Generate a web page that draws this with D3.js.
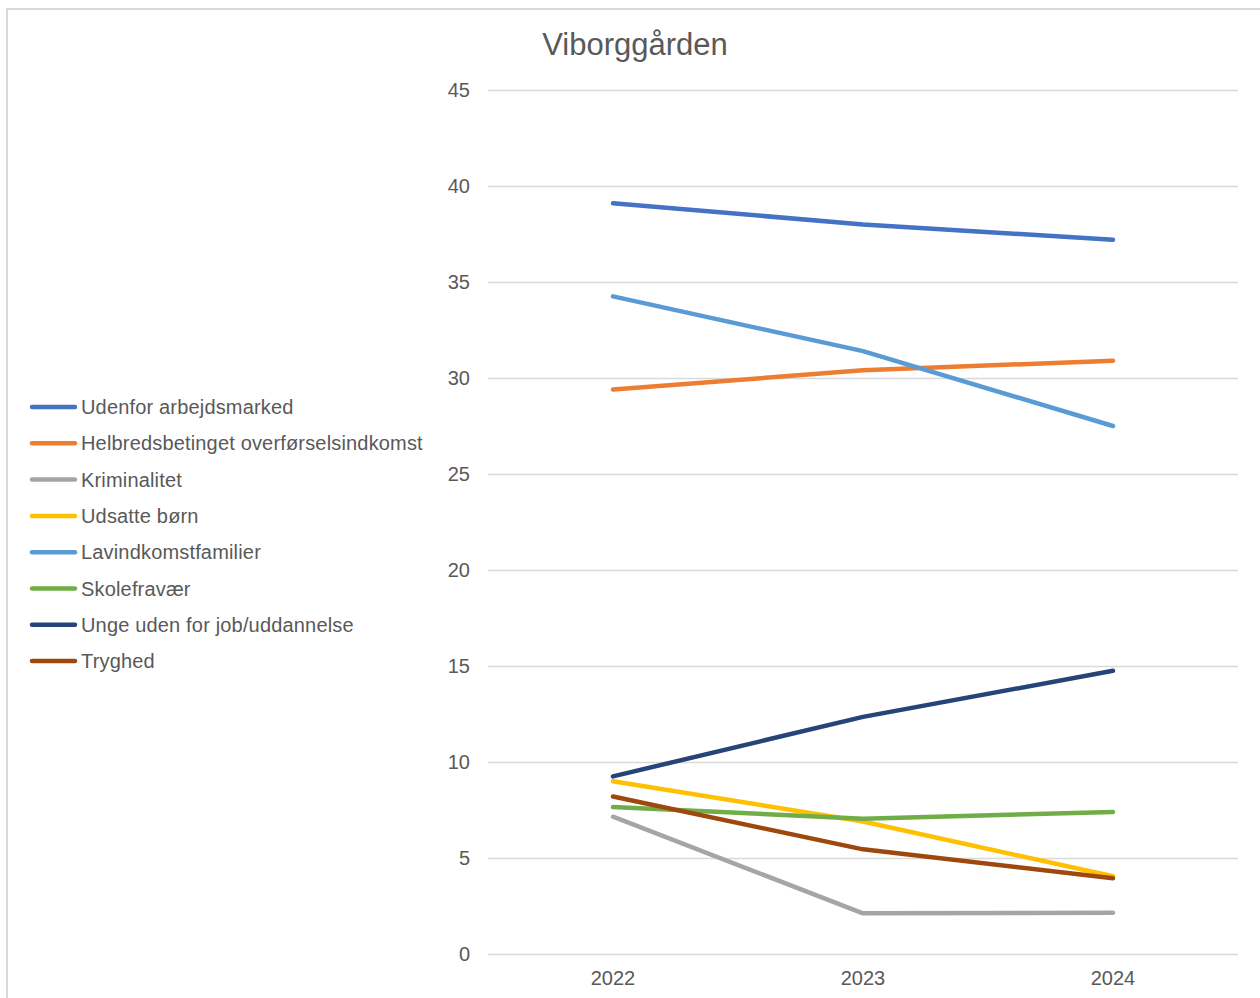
<!DOCTYPE html>
<html>
<head>
<meta charset="utf-8">
<script src="https://cdn.jsdelivr.net/npm/d3@7"></script>
<style>
  html, body { margin: 0; padding: 0; background: #fff; }
  svg { display: block; font-family: "Liberation Sans", Arial, sans-serif; }
</style>
</head>
<body>
<svg id="chart" width="1260" height="998"></svg>
<script>
// Years on the x axis
const years = ["2022", "2023", "2024"];

// Indicator names, in legend order
const seriesNames = [
  "Udenfor arbejdsmarked",
  "Helbredsbetinget overførselsindkomst",
  "Kriminalitet",
  "Udsatte børn",
  "Lavindkomstfamilier",
  "Skolefravær",
  "Unge uden for job/uddannelse",
  "Tryghed"
];

// Values per indicator, one per year
const udenforArbejdsmarked = [39.1, 38.0, 37.2];
const helbredsbetinget     = [29.4, 30.4, 30.9];
const kriminalitet         = [7.15, 2.12, 2.15];
const udsatteBoern         = [9.0, 6.9, 4.05];
const lavindkomstfamilier  = [34.25, 31.4, 27.5];
const skolefravaer         = [7.65, 7.05, 7.4];
const ungeUdenJob          = [9.25, 12.35, 14.75];
const tryghed              = [8.2, 5.45, 3.95];

// Y-axis tick values
const yTicks = [0, 5, 10, 15, 20, 25, 30, 35, 40, 45];

const seriesValues = [
  udenforArbejdsmarked, helbredsbetinget, kriminalitet, udsatteBoern,
  lavindkomstfamilier, skolefravaer, ungeUdenJob, tryghed
];
const colors = ["#4472C4", "#ED7D31", "#A5A5A5", "#FFC000",
                "#5B9BD5", "#70AD47", "#264478", "#9E480E"];

const series = seriesNames.map((name, i) => ({
  name, color: colors[i],
  points: years.map((y, j) => ({ year: y, value: seriesValues[i][j] }))
}));

const svg = d3.select("#chart");
const textColor = "#595959";

// Chart frame (only top and left edges show)
svg.append("line").attr("x1", 7).attr("x2", 7).attr("y1", 8).attr("y2", 998)
  .attr("stroke", "#d9d9d9").attr("stroke-width", 2);
svg.append("line").attr("x1", 6).attr("x2", 1260).attr("y1", 9).attr("y2", 9)
  .attr("stroke", "#d9d9d9").attr("stroke-width", 2);

const plot = { left: 488, right: 1238, top: 90, bottom: 954 };

const x = d3.scaleBand().domain(years).range([plot.left, plot.right]);
const y = d3.scaleLinear().domain([0, 45]).range([plot.bottom, plot.top]);

// Horizontal gridlines + y tick labels
const yAxis = d3.axisLeft(y).tickValues(yTicks)
  .tickSize(-(plot.right - plot.left)).tickPadding(18);
const yg = svg.append("g").attr("transform", `translate(${plot.left},0)`).call(yAxis);
yg.select(".domain").remove();
yg.selectAll(".tick line").attr("stroke", "#d9d9d9").attr("stroke-width", 1.5);
yg.selectAll(".tick text").attr("fill", textColor)
  .attr("font-size", 20).attr("font-family", "Liberation Sans, Arial, sans-serif");

// X axis labels
const xAxis = d3.axisBottom(x).tickSize(0).tickPadding(17);
const xg = svg.append("g").attr("transform", `translate(0,${plot.bottom})`).call(xAxis);
xg.select(".domain").remove();
xg.selectAll(".tick text").attr("fill", textColor)
  .attr("font-size", 20).attr("font-family", "Liberation Sans, Arial, sans-serif");

// Series lines
const line = d3.line()
  .x(d => x(d.year) + x.bandwidth() / 2)
  .y(d => y(d.value));

svg.append("g").selectAll("path").data(series).join("path")
  .attr("d", d => line(d.points))
  .attr("fill", "none")
  .attr("stroke", d => d.color)
  .attr("stroke-width", 4.5)
  .attr("stroke-linecap", "round")
  .attr("stroke-linejoin", "round");

// Title
svg.append("text").attr("x", 635).attr("y", 55)
  .attr("text-anchor", "middle").attr("fill", textColor)
  .attr("font-size", 31).text("Viborggården");

// Legend
const legend = svg.append("g").attr("transform", "translate(30,407)");
const rowH = 36.3;
const item = legend.selectAll("g").data(series).join("g")
  .attr("transform", (d, i) => `translate(0,${i * rowH})`);
item.append("line").attr("x1", 2).attr("x2", 45).attr("y1", 0).attr("y2", 0)
  .attr("stroke", d => d.color).attr("stroke-width", 4.5).attr("stroke-linecap", "round");
item.append("text").attr("x", 51).attr("y", 0).attr("dy", "0.35em")
  .attr("fill", textColor).attr("font-size", 20).attr("letter-spacing", 0.17)
  .text(d => d.name);
</script>
</body>
</html>
